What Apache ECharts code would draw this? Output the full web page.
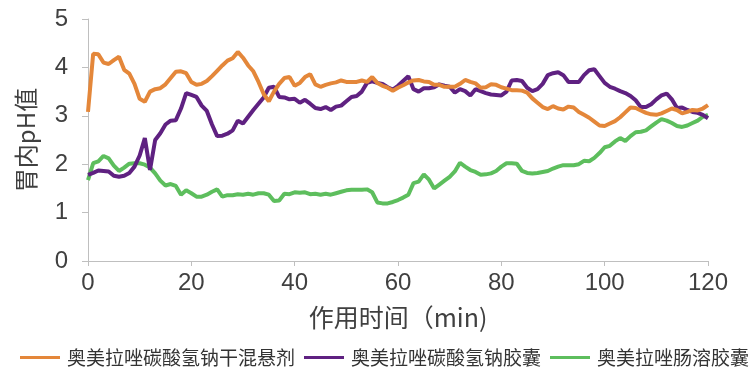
<!DOCTYPE html>
<html>
<head>
<meta charset="utf-8">
<script src="https://cdn.jsdelivr.net/npm/echarts@6/dist/echarts.min.js"></script>
<style>html,body{margin:0;padding:0;background:#fff}#c{width:750px;height:375px}</style>
</head>
<body>
<div id="c"></div>
<script>
var timeMin = [];
for (var i = 0; i <= 120; i++) timeMin.push(i);

var seriesNames = ['奥美拉唑碳酸氢钠干混悬剂', '奥美拉唑碳酸氢钠胶囊', '奥美拉唑肠溶胶囊'];

var dryMix = [3.08,4.28,4.27,4.10,4.07,4.15,4.22,3.95,3.87,3.66,
3.35,3.29,3.50,3.55,3.57,3.65,3.78,3.91,3.92,3.88,
3.70,3.64,3.66,3.72,3.82,3.93,4.04,4.14,4.19,4.32,
4.20,4.04,3.92,3.70,3.45,3.30,3.50,3.66,3.78,3.80,
3.62,3.68,3.80,3.86,3.65,3.60,3.64,3.67,3.69,3.73,
3.70,3.70,3.70,3.73,3.70,3.80,3.68,3.62,3.58,3.52,
3.58,3.63,3.69,3.73,3.74,3.71,3.70,3.64,3.64,3.60,
3.60,3.60,3.66,3.74,3.70,3.67,3.58,3.59,3.65,3.64,
3.59,3.56,3.53,3.53,3.52,3.48,3.36,3.27,3.18,3.14,
3.20,3.15,3.13,3.19,3.17,3.08,3.02,2.96,2.88,2.80,
2.79,2.84,2.89,2.97,3.07,3.17,3.16,3.11,3.06,3.03,
3.02,3.05,3.10,3.15,3.12,3.05,3.08,3.12,3.11,3.15,
3.22];

var bicarbCap = [1.78,1.82,1.87,1.86,1.85,1.76,1.74,1.76,1.82,1.95,
2.18,2.54,1.88,2.50,2.64,2.82,2.90,2.91,3.15,3.47,
3.43,3.39,3.21,3.10,2.82,2.58,2.59,2.63,2.70,2.90,
2.84,2.98,3.12,3.25,3.38,3.58,3.60,3.39,3.38,3.34,
3.35,3.27,3.33,3.25,3.16,3.14,3.18,3.12,3.19,3.21,
3.30,3.39,3.41,3.50,3.68,3.71,3.68,3.66,3.59,3.54,
3.62,3.72,3.82,3.55,3.50,3.57,3.57,3.59,3.65,3.62,
3.60,3.48,3.55,3.51,3.42,3.55,3.51,3.47,3.44,3.43,
3.42,3.50,3.73,3.74,3.72,3.58,3.51,3.55,3.66,3.84,
3.88,3.90,3.84,3.70,3.70,3.70,3.84,3.94,3.96,3.82,
3.68,3.60,3.56,3.51,3.47,3.41,3.32,3.18,3.18,3.24,
3.34,3.42,3.46,3.34,3.16,3.17,3.12,3.08,3.06,3.02,
2.95];

var entericCap = [1.67,2.02,2.06,2.17,2.12,1.97,1.86,1.93,2.01,2.02,
2.02,1.99,1.93,1.81,1.66,1.56,1.59,1.55,1.37,1.46,
1.40,1.33,1.33,1.37,1.43,1.48,1.33,1.36,1.36,1.38,
1.37,1.39,1.37,1.40,1.40,1.37,1.24,1.25,1.39,1.38,
1.42,1.41,1.42,1.38,1.39,1.37,1.39,1.37,1.40,1.43,
1.46,1.47,1.47,1.47,1.48,1.42,1.21,1.19,1.19,1.22,
1.26,1.31,1.37,1.61,1.64,1.79,1.68,1.50,1.58,1.66,
1.74,1.85,2.03,1.95,1.88,1.84,1.78,1.79,1.81,1.86,
1.95,2.02,2.02,2.01,1.86,1.82,1.81,1.82,1.84,1.86,
1.91,1.95,1.98,1.98,1.98,2.00,2.07,2.06,2.13,2.23,
2.35,2.38,2.47,2.54,2.48,2.58,2.66,2.67,2.70,2.78,
2.86,2.93,2.90,2.85,2.79,2.77,2.80,2.85,2.90,2.98,
3.02];

var xTicks = [0, 20, 40, 60, 80, 100, 120];
var yTicks = [0, 1, 2, 3, 4, 5];
var colors = ['#E4873A', '#5F2181', '#5DBE5D'];

function pairs(vals) {
  return timeMin.map(function (t, i) { return [t, vals[i]]; });
}

var chart = echarts.init(document.getElementById('c'), null, {renderer: 'canvas'});
var axisColor = '#BFBFBF';
var textColor = '#404040';
var fontFam = 'Liberation Sans, Noto Sans CJK SC, sans-serif';

chart.setOption({
  animation: false,
  color: colors,
  grid: {left: 88, right: 42, top: 19, bottom: 114},
  legend: {
    bottom: 8,
    left: 20,
    width: 730,
    padding: 0,
    icon: 'rect',
    itemWidth: 40,
    itemHeight: 3,
    itemGap: 9,
    data: seriesNames,
    textStyle: {fontSize: 19, color: '#333', fontFamily: 'Noto Sans CJK SC', padding: [0, 0, 0, 2]}
  },
  xAxis: {
    type: 'value',
    min: xTicks[0], max: xTicks[xTicks.length - 1], interval: 20,
    name: '作用时间（min)',
    nameLocation: 'middle',
    nameGap: 44,
    nameTextStyle: {fontSize: 25, color: textColor, fontFamily: 'Noto Sans CJK SC'},
    axisLine: {lineStyle: {color: axisColor, width: 1}},
    axisTick: {show: true, length: 5, lineStyle: {color: axisColor}},
    axisLabel: {fontSize: 24, color: textColor, margin: 10, fontFamily: fontFam},
    splitLine: {show: false}
  },
  yAxis: {
    type: 'value',
    min: yTicks[0], max: yTicks[yTicks.length - 1], interval: 1,
    name: '胃内pH值',
    nameLocation: 'middle',
    nameRotate: 90,
    nameGap: 50,
    nameTextStyle: {fontSize: 24, color: textColor, fontFamily: 'Noto Sans CJK SC'},
    axisLine: {show: true, lineStyle: {color: axisColor, width: 1}},
    axisTick: {show: true, length: 6, lineStyle: {color: axisColor}},
    axisLabel: {fontSize: 24, color: textColor, margin: 20, fontFamily: fontFam},
    splitLine: {show: false}
  },
  series: [
    {name: seriesNames[0], type: 'line', data: pairs(dryMix), symbol: 'none', lineStyle: {width: 4}, z: 3},
    {name: seriesNames[1], type: 'line', data: pairs(bicarbCap), symbol: 'none', lineStyle: {width: 4}, z: 2},
    {name: seriesNames[2], type: 'line', data: pairs(entericCap), symbol: 'none', lineStyle: {width: 4}, z: 1}
  ]
});
</script>
</body>
</html>
